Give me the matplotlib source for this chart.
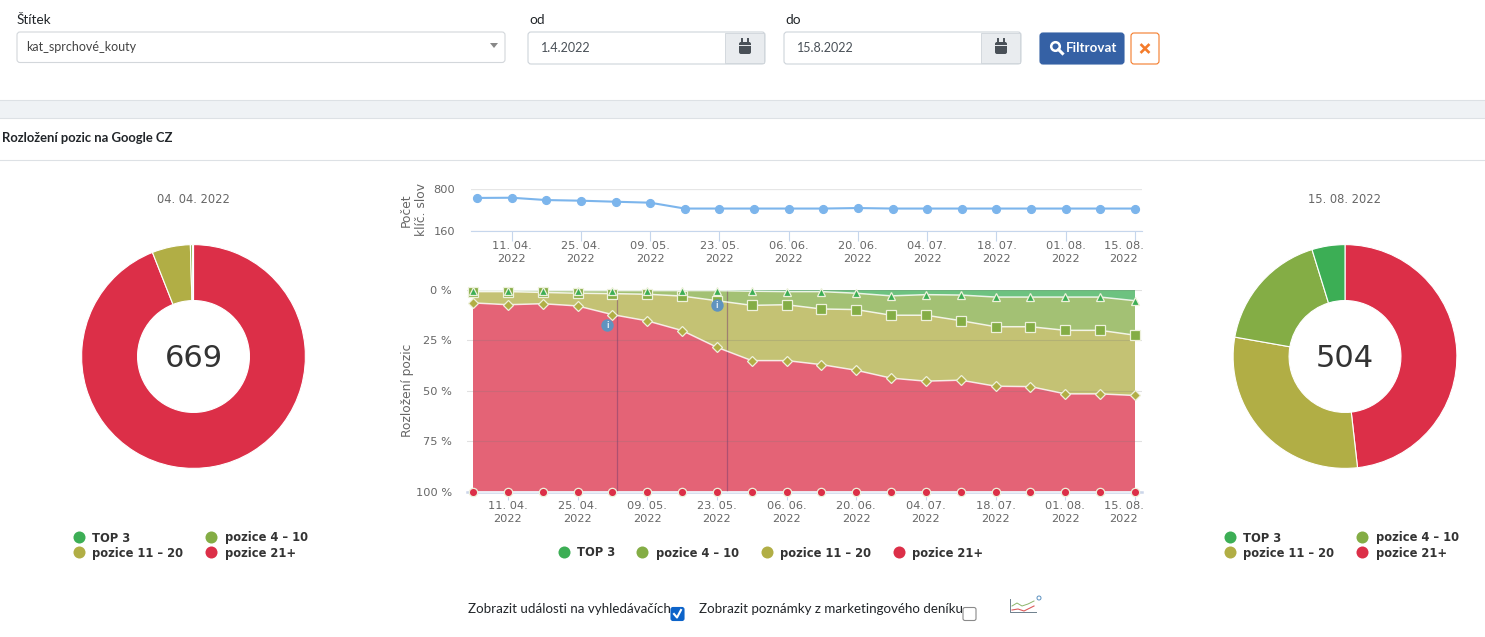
# Rozlozeni pozic - prehled klicovych slov
import matplotlib
matplotlib.use('Agg')
import matplotlib.pyplot as plt
import matplotlib.dates as mdates
from matplotlib.patches import FancyBboxPatch, Rectangle, Circle, Polygon
from matplotlib.transforms import ScaledTranslation
from datetime import datetime

W, H = 1485, 637

# data
dates = ['2022-04-04', '2022-04-11', '2022-04-18', '2022-04-25', '2022-05-02',
         '2022-05-09', '2022-05-16', '2022-05-23', '2022-05-30', '2022-06-06',
         '2022-06-13', '2022-06-20', '2022-06-27', '2022-07-04', '2022-07-11',
         '2022-07-18', '2022-07-25', '2022-08-01', '2022-08-08', '2022-08-15']
keywords = [669, 672, 636, 626, 610, 595, 504, 504, 504, 504,
            504, 512, 504, 504, 504, 504, 504, 504, 504, 504]
top3 = [0.3, 0.3, 0.3, 0.3, 0.3, 0.3, 0.3, 0.3, 0.6, 0.8,
        0.8, 1.6, 2.9, 2.3, 2.5, 3.5, 3.5, 3.5, 3.5, 5.3]
pos4_10 = [0.5, 0.5, 0.9, 1.3, 1.5, 1.8, 2.7, 5.0, 7.0, 6.5,
           8.6, 8.1, 9.6, 10.2, 12.7, 14.7, 14.7, 16.5, 16.5, 17.1]
pos11_20 = [5.6, 6.5, 5.6, 6.3, 10.4, 13.2, 17.1, 23.1, 27.4, 27.7,
            27.6, 30.1, 31.2, 32.7, 29.5, 29.5, 29.7, 31.5, 31.5, 29.9]
pos21 = [93.6, 92.7, 93.2, 92.1, 87.8, 84.7, 79.9, 71.6, 65.0, 65.0,
         63.0, 60.2, 56.3, 54.8, 55.3, 52.3, 52.1, 48.5, 48.5, 47.7]
series_names = ['TOP 3', 'pozice 4 – 10', 'pozice 11 – 20', 'pozice 21+']
series_colors = ['#3cae55', '#84ad45', '#b1ae45', '#dc2f48']
x_ticks = ['2022-04-11', '2022-04-25', '2022-05-09', '2022-05-23', '2022-06-06',
           '2022-06-20', '2022-07-04', '2022-07-18', '2022-08-01', '2022-08-15']
x_labels = ['11. 04.\n2022', '25. 04.\n2022', '09. 05.\n2022', '23. 05.\n2022',
            '06. 06.\n2022', '20. 06.\n2022', '04. 07.\n2022', '18. 07.\n2022',
            '01. 08.\n2022', '15. 08.\n2022']
pie_left = [629, 37, 2, 1]      # 21+, 11-20, 4-10, TOP 3
pie_right = [243, 149, 88, 24]
event_lines = ['2022-05-03', '2022-05-25']
event_icons_x = ['2022-05-01', '2022-05-23']
event_icons_y = [17.5, 7.5]

TXT = '#666666'
UI_FONT = 'Lato'
plt.rcParams['font.family'] = 'DejaVu Sans'


def to_num(items):
    return [mdates.date2num(datetime.strptime(d, '%Y-%m-%d')) for d in items]


def px_axes(left, top, right, bottom, **kw):
    return fig.add_axes([left / W, 1 - bottom / H, (right - left) / W, (bottom - top) / H], **kw)


def box(x0, y0, x1, y1, fc='white', ec='#ced4da', r=3, lw=0.8, z=2):
    ui.add_patch(FancyBboxPatch((x0 + r, y0 + r), x1 - x0 - 2 * r, y1 - y0 - 2 * r,
                                boxstyle='round,pad=%d,rounding_size=%d' % (r, r),
                                fc=fc, ec=ec, lw=lw, zorder=z))


def calendar(cx, cy):
    ui.add_patch(FancyBboxPatch((cx - 6, cy - 5), 12, 12, boxstyle='round,pad=0,rounding_size=2',
                                fc='#495057', ec='none', zorder=4))
    ui.plot([cx - 6, cx + 6], [cy - 2, cy - 2], color='#e9ecef', lw=0.7, zorder=5)
    ui.plot([cx - 3, cx - 3], [cy - 8, cy - 5], color='#495057', lw=1.4, zorder=5)
    ui.plot([cx + 3, cx + 3], [cy - 8, cy - 5], color='#495057', lw=1.4, zorder=5)


def legend_row(x_circle, x_text, y, name_idx):
    ui.scatter([x_circle], [y], s=75, color=series_colors[name_idx], linewidths=0, zorder=5)
    ui.text(x_text, y + 1, series_names[name_idx], fontsize=8.3, fontweight='bold', color='#333333',
            va='center', ha='left')


def donut(cx, cy, values, total, title):
    ax = px_axes(cx - 113, cy - 113, cx + 113, cy + 113)
    ax.pie(values, colors=[series_colors[3], series_colors[2], series_colors[1], series_colors[0]],
           startangle=90, counterclock=False, radius=1.0,
           wedgeprops=dict(width=0.5, edgecolor='white', linewidth=0.8))
    ax.set_xlim(-1.01, 1.01)
    ax.set_ylim(-1.01, 1.01)
    ax.text(0, -0.02, str(total), ha='center', va='center', fontsize=22, color='#333333')
    ui.text(cx, 199.5, title, ha='center', va='center', fontsize=8.3, color=TXT)


fig = plt.figure(figsize=(W / 100, H / 100), dpi=100, facecolor='white')

# vrstva s formularem a popisky
ui = fig.add_axes([0, 0, 1, 1])
ui.set_xlim(0, W)
ui.set_ylim(H, 0)
ui.axis('off')

ui.text(17, 20, 'Štítek', fontsize=9.8, family=UI_FONT, color='#212529', va='center')
box(17, 32, 505, 62.5, ec='#d3d7db')
ui.text(26, 47, 'kat_sprchové_kouty', fontsize=9, family=UI_FONT, color='#444444', va='center')
ui.add_patch(Polygon([[490, 43], [498, 43], [494, 48]], fc='#888888', ec='none', zorder=4))

for x0, lbl_txt, val in [(528, 'od', '1.4.2022'), (784, 'do', '15.8.2022')]:
    ui.text(x0 + 1, 20, lbl_txt, fontsize=9.8, family=UI_FONT, color='#212529', va='center')
    box(x0, 32, x0 + 237, 64)
    ui.add_patch(Rectangle((x0 + 197, 32.6), 39.4, 30.8, fc='#e9ecef', ec='#ced4da', lw=0.6, zorder=3))
    ui.text(x0 + 13, 48, val, fontsize=9, family=UI_FONT, color='#495057', va='center')
    calendar(x0 + 217, 47)

box(1040, 33, 1124, 64, fc='#3561a5', ec='#3561a5')
ui.add_patch(Circle((1055.5, 46.5), 4.3, fc='none', ec='white', lw=1.8, zorder=4))
ui.plot([1058.5, 1062.5], [49.5, 53.5], color='white', lw=2.2, zorder=4)
ui.text(1066, 48.5, 'Filtrovat', fontsize=9.6, fontweight='bold', family=UI_FONT, color='white',
        va='center', zorder=4)
box(1131, 33, 1159, 64, ec='#f47b2a')
ui.plot([1141.5, 1148.5], [45, 52], color='#f47b2a', lw=1.9, zorder=4)
ui.plot([1141.5, 1148.5], [52, 45], color='#f47b2a', lw=1.9, zorder=4)

ui.add_patch(Rectangle((0, 100), W, 17.5, fc='#eff2f5', ec='none'))
ui.plot([0, W], [100, 100], color='#dde1e5', lw=0.8)
ui.plot([0, W], [117.5, 117.5], color='#dde1e5', lw=0.8)
ui.plot([0, W], [159.5, 159.5], color='#dde1e5', lw=0.8)
ui.text(2, 138, 'Rozložení pozic na Google CZ', fontsize=9.4, fontweight='bold', family=UI_FONT,
        color='#212529', va='center')

for x_c, x_t in [(79, 92), (1230, 1243)]:
    legend_row(x_c, x_t, 537, 0)
    legend_row(x_c + 132, x_t + 133, 537, 1)
    legend_row(x_c, x_t, 552, 2)
    legend_row(x_c + 132, x_t + 133, 552, 3)
for i, (x_c, x_t) in enumerate([(564, 577), (642, 656), (767, 780), (899, 912)]):
    legend_row(x_c, x_t, 552, i)

ui.text(468, 609, 'Zobrazit události na vyhledávačích', fontsize=9.6, family=UI_FONT,
        color='#212529', va='center')
ui.text(699, 609, 'Zobrazit poznámky z marketingového deníku', fontsize=9.6, family=UI_FONT,
        color='#212529', va='center')
box(671, 607.5, 684, 620.5, fc='#0d63c9', ec='#0d63c9', r=2)
ui.plot([674, 677, 681], [614, 617.5, 610], color='white', lw=1.5, zorder=4)
box(963, 607.5, 976, 620.5, ec='#8a8a8a', r=2)

# mala ikonka grafu
ui.plot([1010, 1010, 1036], [599, 612, 612], color='#6d7f8c', lw=0.7)
ui.plot([1012, 1017, 1022, 1028, 1034], [606, 603, 606, 604, 601], color='#8cb56a', lw=0.7)
ui.plot([1012, 1018, 1024, 1030, 1034], [610, 609, 611, 608, 606], color='#dc5b5b', lw=0.8)
ui.add_patch(Circle((1039, 598), 2, fc='white', ec='#5b91c0', lw=0.7))

# pocet klicovych slov
x = to_num(dates)
ax_kw = px_axes(471, 189.5, 1142, 230.7)
ax_kw.patch.set_alpha(0)
ax_kw.plot(x, keywords, color='#7cb5ec', lw=1.5, marker='o', ms=5.6, mec='#7cb5ec', clip_on=False, zorder=5)
ax_kw.set_xlim(x[0] - 6 / 4.947, x[-1] + 7 / 4.947)
ax_kw.set_ylim(160, 800)
ax_kw.set_yticks([160, 800])
ax_kw.set_yticklabels(['160', '800'])
ax_kw.grid(axis='y', color='#e6e6e6', lw=0.9)
for s in ['left', 'right', 'top']:
    ax_kw.spines[s].set_visible(False)
ax_kw.spines['bottom'].set_color('#c6d6ec')
ax_kw.tick_params(axis='y', length=0, labelsize=8.2, labelcolor=TXT, pad=11.5)
ax_kw.set_xticks(to_num(x_ticks))
ax_kw.set_xticklabels(x_labels, linespacing=1.3)
ax_kw.tick_params(axis='x', length=7, width=0.8, color='#c6d6ec', labelsize=8.2, labelcolor=TXT, pad=0.5)

# rozlozeni pozic
ax_st = px_axes(467, 290, 1142, 491.7)
ax_st.patch.set_alpha(0)
ax_st.stackplot(x, top3, pos4_10, pos11_20, pos21, colors=series_colors, alpha=0.75, lw=0, zorder=2)
ax_st.set_xlim(x[0] - 6 / 4.977, x[-1] + 7 / 4.977)
ax_st.set_ylim(100, 0)
ax_st.set_yticks([0, 25, 50, 75, 100])
ax_st.set_yticklabels(['0 %', '25 %', '50 %', '75 %', '100 %'])
ax_st.grid(axis='y', color='#777777', alpha=0.22, lw=0.8, zorder=3)
ax_st.set_axisbelow(False)
for s in ['left', 'right', 'top']:
    ax_st.spines[s].set_visible(False)
ax_st.spines['bottom'].set_color('#ccd6eb')
ax_st.spines['bottom'].set_linewidth(1.8)
ax_st.tick_params(axis='y', length=0, labelsize=8.2, labelcolor=TXT, pad=11)
ax_st.set_xticks(to_num(x_ticks))
ax_st.set_xticklabels(x_labels, linespacing=1.3)
ax_st.tick_params(axis='x', length=6, width=0.8, color='#c6d6ec', labelsize=8.2, labelcolor=TXT, pad=1)

for ev in to_num(event_lines):
    ax_st.axvline(ev, color='#7a3f6e', alpha=0.5, lw=0.9, zorder=4)

cum = [0] * len(x)
markers = ['^', 's', 'D', 'o']
sizes = [6, 6.5, 5, 6]
for i, (vals, col, mk, ms) in enumerate(zip([top3, pos4_10, pos11_20, pos21], series_colors, markers, sizes)):
    cum = [a + b for a, b in zip(cum, vals)]
    ax_st.plot(x, cum, color='white', lw=1.1, alpha=0.8, zorder=5, clip_on=False)
    # horni serie lezi pres spodni
    ax_st.plot(x, cum, ls='none', marker=mk, ms=ms, mfc=col, mec='#eef1dc', mew=0.9,
               zorder=9 - i, clip_on=False)

ax_st.scatter(to_num(event_icons_x), event_icons_y, s=80, color='#5f93bf', linewidths=0, zorder=10)
for ex, ey in zip(to_num(event_icons_x), event_icons_y):
    ax_st.text(ex, ey, 'i', color='#d8e6f2', fontsize=5.5, fontweight='bold', ha='center', va='center', zorder=11)

# posledni popisek je posunuty doleva, aby se vesel
for a in [ax_kw, ax_st]:
    lab = a.get_xticklabels()[-1]
    lab.set_transform(lab.get_transform() + ScaledTranslation(-11 / 100, 0, fig.dpi_scale_trans))

ui.text(414, 210, 'Počet\nklíč. slov', rotation=90, ha='center', va='center', fontsize=8.8,
        color=TXT, linespacing=1.25)
ui.text(407, 390, 'Rozložení pozic', rotation=90, ha='center', va='center', fontsize=8.8, color=TXT)

donut(193.5, 356.5, pie_left, 669, '04. 04. 2022')
donut(1345, 356.5, pie_right, 504, '15. 08. 2022')

plt.savefig('out.png', dpi=100)
